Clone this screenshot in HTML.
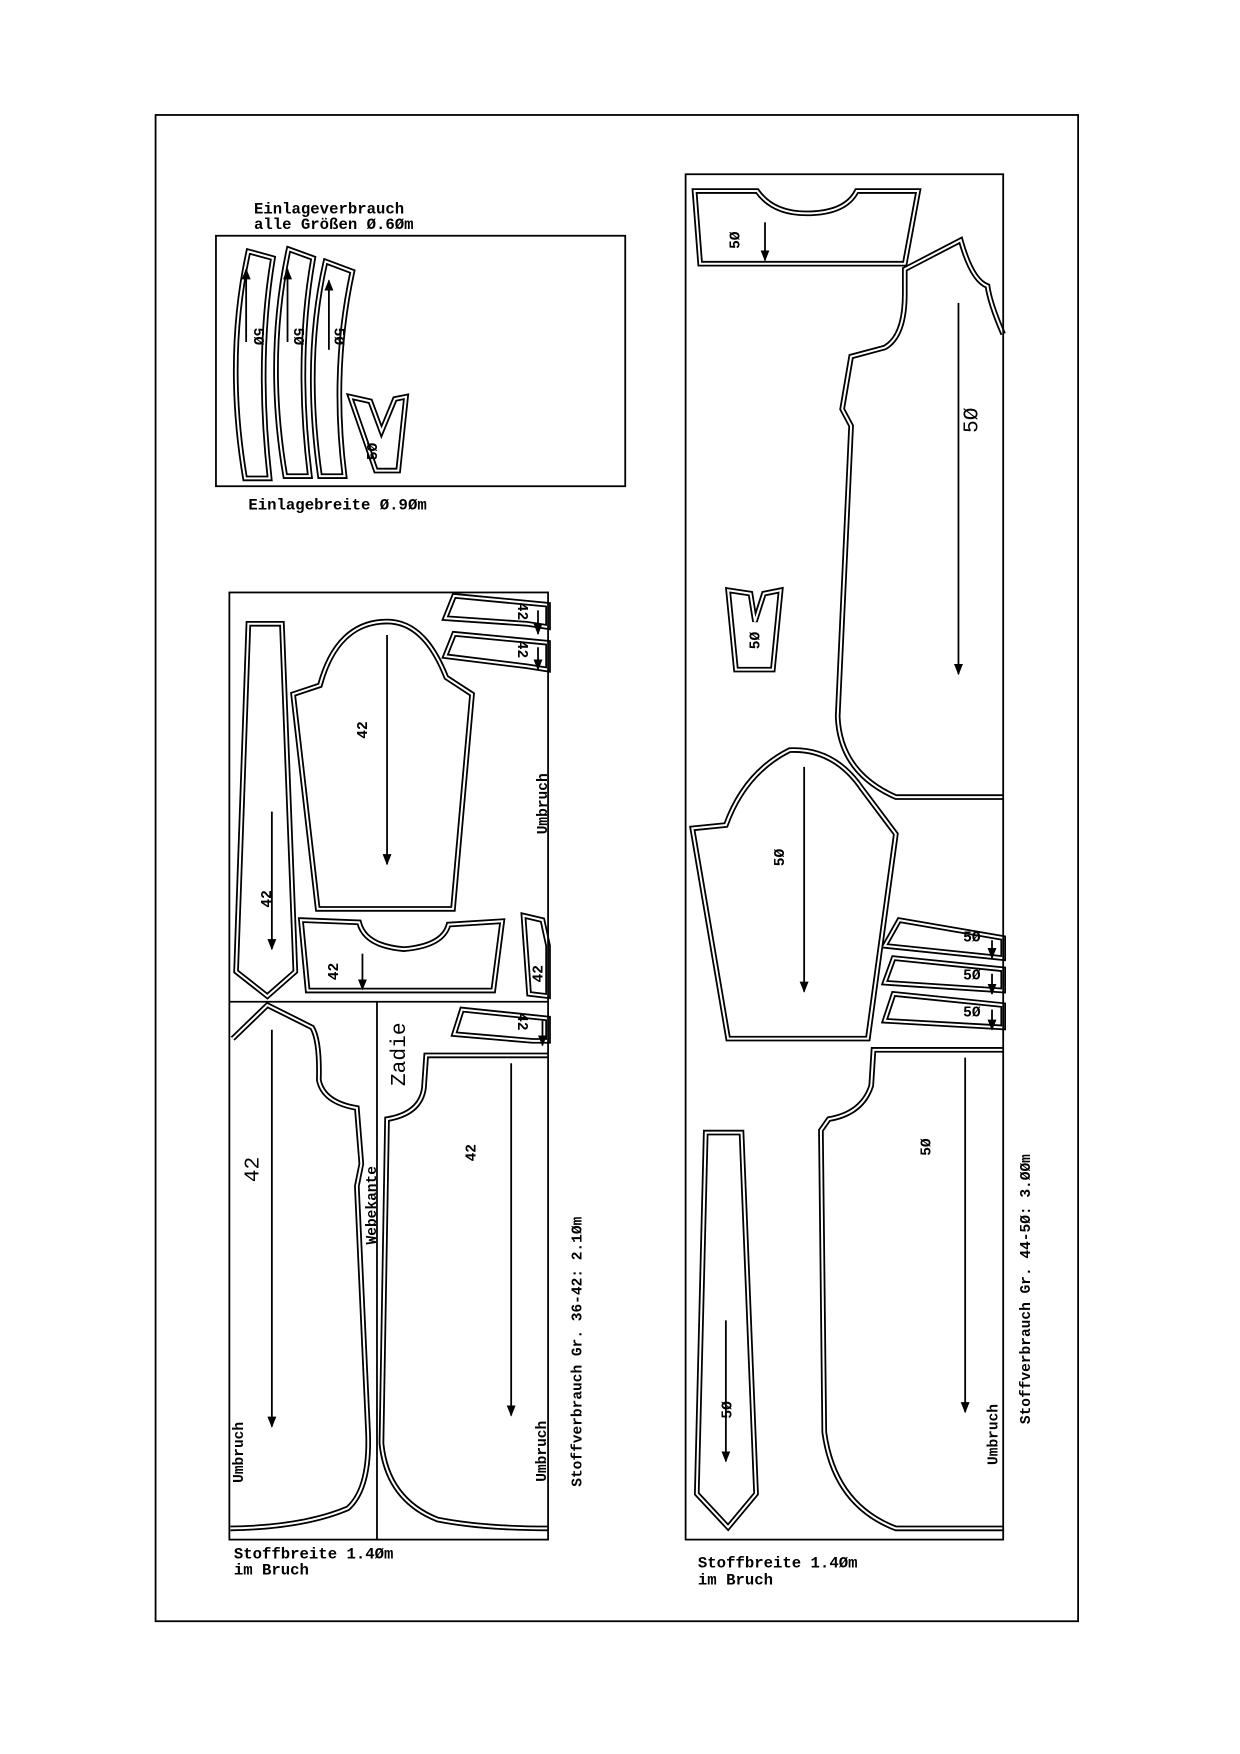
<!DOCTYPE html>
<html><head><meta charset="utf-8"><style>
html,body{margin:0;padding:0;background:#fff}
svg{display:block}
text{font-family:"Liberation Mono",monospace;font-weight:bold;fill:#000}
.l{fill:none;stroke:#000;stroke-width:1.6}
</style></head><body>
<svg width="1240" height="1754" viewBox="0 0 1100 1556" xmlns="http://www.w3.org/2000/svg">
<defs>
<marker id="a" markerWidth="10" markerHeight="8" refX="9" refY="4" orient="auto" markerUnits="userSpaceOnUse"><path d="M0,0 L10,4 L0,8 Z" fill="#000"/></marker>
<g id="e" fill="none">
<path d="M221,224 L243,230 Q228,320 240,427 L218,427 Q200,320 221,224 Z"/>
<path d="M257,222 L279,230 Q263,320 276,425 L254,425 Q236,320 257,222 Z"/>
<path d="M290,233 L314,242 Q295,330 307,425 L285,425 Q270,320 290,233 Z"/>
<path d="M312,354 L330,358 L340,385 L352,356 L362,354 L355,420 L335,420 Z"/>
<path d="M221,557 L251,557 L263,868 L238,890 L210,868 Z"/>
<path d="M261,620 L285,612 C295,575 315,555 345,555 C375,555 390,585 398,605 L421,620 L404,812 L283,812 Z"/>
<path d="M405,532 L489,540 L489,560 L470,557 L397,552 Z"/>
<path d="M405,566 L489,574 L489,598 L470,595 L397,586 Z"/>
<path d="M268,822 L320,824 Q325,845 360,848 Q395,845 400,826 L448,823 L440,885 L274,885 Z"/>
<path d="M467,818 L484,822 L489,845 L489,890 L472,888 Z"/>
<path d="M207,928 L238,898 L278,918 Q285,930 284,965 Q288,985 318,990 L322,1040 L318,1060 L328,1280 Q330,1330 310,1348 Q270,1365 205,1366"/>
<path d="M412,902 L489,910 L489,930 L475,930 L405,924 Z"/>
<path d="M489,943 L380,943 L378,972 Q375,995 345,1000 L340,1290 Q345,1340 390,1358 Q430,1366 489,1366"/>
<path d="M620,170 L676,170 Q690,190 720,190 Q755,190 765,170 L820,170 L808,235 L625,235 Z"/>
<path d="M896,298 Q884,270 882,255 Q868,250 858,214 L808,240 L808,262 Q808,300 790,310 L760,318 L752,365 L760,380 L748,640 Q750,690 800,712 L896,712"/>
<path d="M650,527 L670,530 L674,555 L682,530 L697,527 L690,598 L657,598 Z"/>
<path d="M618,740 L648,737 Q665,690 705,670 Q745,668 770,705 L800,745 L775,928 L650,928 Z"/>
<path d="M803,822 L896,838 L896,856 L790,845 Z"/>
<path d="M798,856 L896,866 L896,885 L790,878 Z"/>
<path d="M798,888 L896,898 L896,918 L790,912 Z"/>
<path d="M630,1012 L662,1012 L675,1335 L650,1365 L622,1335 Z"/>
<path d="M896,938 L780,938 L778,970 Q770,995 740,1000 L733,1010 L736,1280 Q745,1345 800,1366 L896,1366"/>
</g>
</defs>
<g transform="translate(138,102) scale(0.992) translate(-138,-102)">
<rect x="138" y="102" width="825" height="1347" class="l"/>
<text x="226" y="190" font-size="14">Einlageverbrauch</text>
<text x="226" y="204" font-size="14">alle Größen Ø.6Øm</text>
<rect x="192" y="210" width="366" height="224" class="l"/>
<text x="221" y="455" font-size="14">Einlagebreite Ø.9Øm</text>
<use href="#e" fill="none" stroke="#000" stroke-width="5"/>
<use href="#e" fill="none" stroke="#fff" stroke-width="1.8"/>
<rect x="204" y="529" width="285" height="847" class="l"/>
<line x1="204" y1="895" x2="489" y2="895" class="l"/>
<line x1="336" y1="895" x2="336" y2="1376" class="l"/>
<rect x="612" y="155" width="284" height="1221" class="l"/>
<g class="l" marker-end="url(#a)">
<line x1="219" y1="305" x2="219" y2="240"/>
<line x1="256" y1="305" x2="256" y2="240"/>
<line x1="293" y1="312" x2="293" y2="250"/>
<line x1="242" y1="725" x2="242" y2="848"/>
<line x1="345" y1="567" x2="345" y2="772"/>
<line x1="323" y1="852" x2="323" y2="884"/>
<line x1="480" y1="545" x2="480" y2="566"/>
<line x1="480" y1="578" x2="480" y2="598"/>
<line x1="484" y1="912" x2="484" y2="934"/>
<line x1="242" y1="920" x2="242" y2="1275"/>
<line x1="456" y1="950" x2="456" y2="1265"/>
<line x1="683" y1="198" x2="683" y2="232"/>
<line x1="856" y1="270" x2="856" y2="602"/>
<line x1="718" y1="685" x2="718" y2="886"/>
<line x1="886" y1="840" x2="886" y2="856"/>
<line x1="886" y1="870" x2="886" y2="888"/>
<line x1="886" y1="902" x2="886" y2="920"/>
<line x1="648" y1="1180" x2="648" y2="1306"/>
<line x1="862" y1="945" x2="862" y2="1262"/>
</g>
<g font-size="13">
<text transform="translate(226,300) rotate(90)" text-anchor="middle">5Ø</text>
<text transform="translate(262,300) rotate(90)" text-anchor="middle">5Ø</text>
<text transform="translate(298,300) rotate(90)" text-anchor="middle">5Ø</text>
<text transform="translate(336,403) rotate(-90)" text-anchor="middle">5Ø</text>
<text transform="translate(241,803) rotate(-90)" text-anchor="middle">42</text>
<text transform="translate(327,652) rotate(-90)" text-anchor="middle">42</text>
<text transform="translate(301,868) rotate(-90)" text-anchor="middle">42</text>
<text transform="translate(484,870) rotate(-90)" text-anchor="middle">42</text>
<text transform="translate(462,546) rotate(90)" text-anchor="middle">42</text>
<text transform="translate(462,580) rotate(90)" text-anchor="middle">42</text>
<text transform="translate(462,913) rotate(90)" text-anchor="middle">42</text>
<text transform="translate(424,1030) rotate(-90)" text-anchor="middle">42</text>
<text transform="translate(660,214) rotate(-90)" text-anchor="middle">5Ø</text>
<text transform="translate(678,572) rotate(-90)" text-anchor="middle">5Ø</text>
<text transform="translate(700,766) rotate(-90)" text-anchor="middle">5Ø</text>
<text transform="translate(831,1025) rotate(-90)" text-anchor="middle">5Ø</text>
<text transform="translate(653,1260) rotate(-90)" text-anchor="middle">5Ø</text>
<text x="868" y="841" text-anchor="middle">5Ø</text>
<text x="868" y="875" text-anchor="middle">5Ø</text>
<text x="868" y="908" text-anchor="middle">5Ø</text>
<text transform="translate(488,718) rotate(-90)" text-anchor="middle">Umbruch</text>
<text transform="translate(216,1298) rotate(-90)" text-anchor="middle">Umbruch</text>
<text transform="translate(487,1297) rotate(-90)" text-anchor="middle">Umbruch</text>
<text transform="translate(891,1282) rotate(-90)" text-anchor="middle">Umbruch</text>
<text transform="translate(335,1077) rotate(-90)" text-anchor="middle">Webekante</text>
<text transform="translate(519,1208) rotate(-90)" text-anchor="middle">Stoffverbrauch Gr. 36-42: 2.1Øm</text>
<text transform="translate(920,1152) rotate(-90)" text-anchor="middle">Stoffverbrauch Gr. 44-5Ø: 3.ØØm</text>
</g>
<g font-size="19">
<text transform="translate(230,1045) rotate(-90)" text-anchor="middle" style="font-weight:normal">42</text>
<text transform="translate(361,942) rotate(-90)" text-anchor="middle" style="font-weight:normal">Zadie</text>
<text transform="translate(873,375) rotate(-90)" text-anchor="middle" style="font-weight:normal">5Ø</text>
</g>
<g font-size="14">
<text x="208" y="1393">Stoffbreite 1.4Øm</text>
<text x="208" y="1407">im Bruch</text>
<text x="623" y="1401">Stoffbreite 1.4Øm</text>
<text x="623" y="1416">im Bruch</text>
</g>
</g>
</svg>
</body></html>
